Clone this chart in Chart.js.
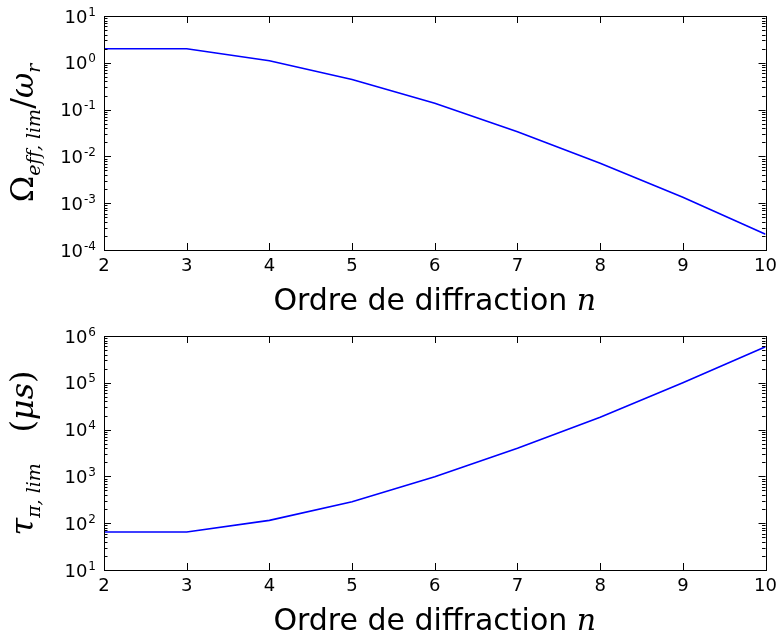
<!DOCTYPE html>
<html>
<head>
<meta charset="utf-8">
<script src="https://cdn.jsdelivr.net/npm/chart.js@4.4.1/dist/chart.umd.min.js"></script>
<style>
  body { margin: 0; background: #fff; }
  .box { position: relative; width: 783px; }
</style>
</head>
<body>
<div class="box" style="height:320px"><canvas id="grafOmega"></canvas></div>
<div class="box" style="height:319px"><canvas id="grafTau"></canvas></div>
<script>
// donnees
const ordres = [2, 3, 4, 5, 6, 7, 8, 9, 10]
const omegaLim = [2.0, 2.0, 1.11, 0.44, 0.136, 0.0337, 0.0071, 0.00134, 0.000216]
const tauLim = [65, 65, 115, 288, 986, 3980, 18300, 100500, 590000]
const ticksOmega = [1e-4, 1e-3, 1e-2, 1e-1, 1, 10]
const ticksTau = [10, 100, 1e3, 1e4, 1e5, 1e6]

const titreX = 'Ordre de diffraction '

// morceaux du titre de l'axe y (texte, taille, italique, decalage vertical)
// \u200C pour casser la ligature ff
const titreOmega = [
    ['Ω', 32, false, 0],
    ['e\u200Cf\u200Cf, lim', 19, true, 7],
    ['/', 32, false, 0],
    ['ω', 31, true, 0],
    ['r', 19, true, 7]
]
const titreTau = [
    ['τ', 32, true, 0],
    ['π, lim', 19, true, 7],
    ['   (', 32, false, 0],
    ['μs', 32, true, 0],
    [')', 32, false, 0]
]

const SERIF = '"DejaVu Serif", serif'
const SANS = '"DejaVu Sans", sans-serif'

// dessine cadre, graduations interieures, labels et titres facon matplotlib
const stylePlugin = {
    id: 'styleMpl',
    afterDraw(chart, args, opts) {
        const ctx = chart.ctx
        const a = chart.chartArea
        const x = chart.scales.x
        const y = chart.scales.y
        ctx.save()
        ctx.strokeStyle = '#000'
        ctx.lineWidth = 1

        // cadre
        ctx.strokeRect(Math.round(a.left) + 0.5, Math.round(a.top) + 0.5,
            Math.round(a.right - a.left), Math.round(a.bottom - a.top))

        ctx.beginPath()
        // graduations x
        for (const v of ordres) {
            const px = Math.round(x.getPixelForValue(v)) + 0.5
            ctx.moveTo(px, a.bottom); ctx.lineTo(px, a.bottom - 7)
            ctx.moveTo(px, a.top); ctx.lineTo(px, a.top + 7)
        }
        // graduations y majeures et mineures
        for (const t of y.ticks) {
            const py = Math.round(y.getPixelForValue(t.value)) + 0.5
            ctx.moveTo(a.left, py); ctx.lineTo(a.left + 7, py)
            ctx.moveTo(a.right, py); ctx.lineTo(a.right - 7, py)
            for (let k = 2; k <= 9; k++) {
                const v = t.value * k
                if (v >= y.max) break
                const pm = Math.round(y.getPixelForValue(v)) + 0.5
                ctx.moveTo(a.left, pm); ctx.lineTo(a.left + 3.5, pm)
                ctx.moveTo(a.right, pm); ctx.lineTo(a.right - 3.5, pm)
            }
        }
        ctx.stroke()

        // labels y : 10 puis l'exposant
        ctx.fillStyle = '#000'
        ctx.textAlign = 'left'
        ctx.textBaseline = 'alphabetic'
        for (const t of y.ticks) {
            const py = y.getPixelForValue(t.value)
            const e = String(Math.round(Math.log10(t.value)))
            ctx.font = '12px ' + SANS
            const wSup = ctx.measureText(e).width
            ctx.font = '18px ' + SANS
            const wBase = ctx.measureText('10').width
            const fin = a.left - 8
            ctx.fillText('10', fin - wSup - wBase - 1, py + 6.5)
            ctx.font = '12px ' + SANS
            ctx.fillText(e, fin - wSup, py - 0.5)
        }

        // titre x
        ctx.font = '30px ' + SANS
        const w1 = ctx.measureText(titreX).width
        ctx.font = 'italic 30px ' + SERIF
        const w2 = ctx.measureText('n').width
        const cx = (a.left + a.right) / 2
        const bx = cx - (w1 + w2) / 2
        ctx.font = '30px ' + SANS
        ctx.fillText(titreX, bx, a.bottom + 60)
        ctx.font = 'italic 30px ' + SERIF
        ctx.fillText('n', bx + w1, a.bottom + 60)

        // titre y, tourne
        const morceaux = opts.titre
        let total = 0
        for (const m of morceaux) {
            ctx.font = (m[2] ? 'italic ' : '') + m[1] + 'px ' + SERIF
            total += ctx.measureText(m[0]).width
        }
        ctx.translate(33, (a.top + a.bottom) / 2)
        ctx.rotate(-Math.PI / 2)
        let pos = -total / 2
        for (const m of morceaux) {
            ctx.font = (m[2] ? 'italic ' : '') + m[1] + 'px ' + SERIF
            ctx.fillText(m[0], pos, m[3])
            pos += ctx.measureText(m[0]).width
        }
        ctx.restore()
    }
}

function criarGrafico(id, valeurs, ticksY, titre, hauteurX) {
    const ctx = document.getElementById(id)
    return new Chart(ctx, {
        type: 'line',
        data: {
            datasets: [{
                data: ordres.map((n, i) => ({ x: n, y: valeurs[i] })),
                borderColor: '#0000ff',
                borderWidth: 1.6,
                pointRadius: 0,
                tension: 0,
                fill: false
            }]
        },
        options: {
            responsive: true,
            maintainAspectRatio: false,
            animation: false,
            devicePixelRatio: 1,
            layout: { padding: { left: 0, top: 16, right: 12, bottom: 0 } },
            plugins: {
                legend: { display: false },
                tooltip: { enabled: false },
                styleMpl: { titre: titre }
            },
            scales: {
                x: {
                    type: 'linear',
                    min: 2,
                    max: 10,
                    grid: { display: false, drawTicks: false },
                    border: { display: false },
                    ticks: {
                        stepSize: 1,
                        padding: 6,
                        color: '#000',
                        font: { family: 'DejaVu Sans', size: 18 }
                    },
                    afterFit: (s) => { s.height = hauteurX }
                },
                y: {
                    type: 'logarithmic',
                    min: ticksY[0],
                    max: ticksY[ticksY.length - 1],
                    grid: { display: false, drawTicks: false },
                    border: { display: false },
                    ticks: { display: false },
                    afterBuildTicks: (s) => { s.ticks = ticksY.map(v => ({ value: v })) },
                    afterFit: (s) => { s.width = 104 }
                }
            }
        },
        plugins: [stylePlugin]
    })
}

criarGrafico('grafOmega', omegaLim, ticksOmega, titreOmega, 70)
criarGrafico('grafTau', tauLim, ticksTau, titreTau, 69)
</script>
</body>
</html>
